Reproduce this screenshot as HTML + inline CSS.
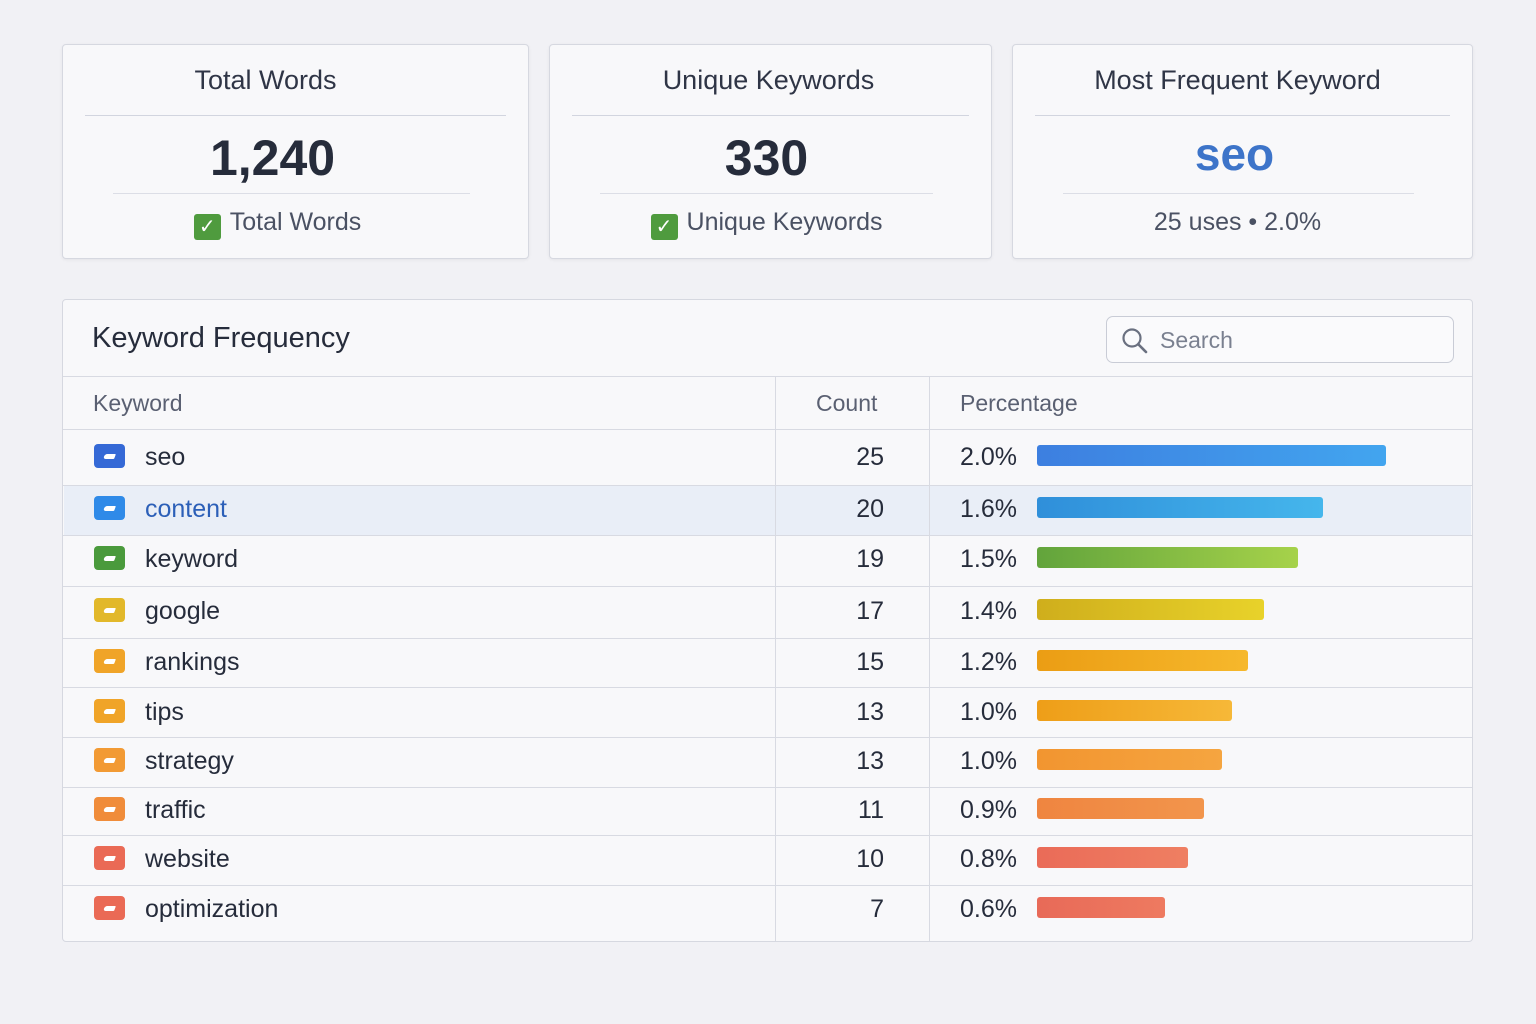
<!DOCTYPE html>
<html><head><meta charset="utf-8"><style>
*{box-sizing:border-box;margin:0;padding:0}
body{width:1536px;height:1024px;background:#f1f1f5;font-family:"Liberation Sans","DejaVu Sans",sans-serif;position:relative;overflow:hidden;color:#262c3b}
.card{position:absolute;top:44px;height:215px;background:#f8f8fa;border:1px solid #d6d8e0;border-radius:4px;box-shadow:0 1px 3px rgba(0,0,0,.06)}
.ct{position:absolute;top:20px;left:0;right:0;text-align:center;font-size:27px;color:#2f3546}
.l1{position:absolute;top:70px;left:22px;right:22px;border-top:1px solid #d2d5df}
.l2{position:absolute;top:148px;left:50px;right:58px;border-top:1px solid #dcdee6}
.num{position:absolute;top:84px;left:0;right:0;text-align:center;font-size:50px;font-weight:bold;color:#262c3b}
.sub{position:absolute;top:163px;left:0;right:0;text-align:center;font-size:25px;color:#4a5163}
.chk{display:inline-block;width:27px;height:26px;background:#4f9b3e;border-radius:3px;vertical-align:-3px;margin-right:9px;color:#fff;font-size:20px;line-height:26px;text-align:center;font-weight:bold}
.panel{position:absolute;left:62px;top:299px;width:1411px;height:643px;background:#f8f8fa;border:1px solid #d6d8e0;border-radius:4px}
.title{position:absolute;left:29px;top:22px;font-size:29px;color:#262c3b}
.search{position:absolute;left:1043px;top:16px;width:348px;height:47px;border:1px solid #c9ccd6;border-radius:7px;background:#fafafc;font-size:23px;color:#7a8090;padding:10px 0 0 53px}
.hl{position:absolute;left:0;right:0;border-top:1px solid #d8dae2}
.vl{position:absolute;top:76px;bottom:0;border-left:1px solid #d8dae2}
.th{position:absolute;top:90px;font-size:23px;color:#5a6072}
.ic{position:absolute;width:31px;height:24px;border-radius:4px}
.ic::after{content:"";position:absolute;left:10px;top:10px;width:11px;height:5px;background:#fff;border-radius:3px 1px 1px 3px;transform:skewX(-20deg)}
</style></head><body>
<div class="card" style="left:62px;width:467px"><div class="ct" style="right:60px">Total Words</div><div class="l1"></div><div class="num" style="right:46px">1,240</div><div class="l2"></div><div class="sub" style="right:36px"><span class="chk">✓</span>Total Words</div></div>
<div class="card" style="left:549px;width:443px"><div class="ct" style="right:4px">Unique Keywords</div><div class="l1"></div><div class="num" style="right:8px">330</div><div class="l2"></div><div class="sub" style="right:8px"><span class="chk">✓</span>Unique Keywords</div></div>
<div class="card" style="left:1012px;width:461px"><div class="ct" style="right:10px">Most Frequent Keyword</div><div class="l1"></div><div class="num" style="color:#3d74c9;top:82px;font-size:46px;right:16px">seo</div><div class="l2"></div><div class="sub" style="right:10px">25 uses • 2.0%</div></div>
<div class="panel">
<div class="title">Keyword Frequency</div>
<div class="search"><svg style="position:absolute;left:14px;top:10px" width="28" height="28"><circle cx="11" cy="11" r="8.5" fill="none" stroke="#6a7080" stroke-width="2.2"/><line x1="17.5" y1="17.5" x2="25" y2="25" stroke="#6a7080" stroke-width="2.6" stroke-linecap="round"/></svg>Search</div>
<div class="hl" style="top:76px"></div>
<div style="position:absolute;top:185px;height:50px;background:#e9eef7;left:1px;right:1px"></div>
<div class="th" style="left:30px">Keyword</div><div class="th" style="left:753px">Count</div><div class="th" style="left:897px">Percentage</div>
<div class="hl" style="top:129px"></div><div class="hl" style="top:185px"></div><div class="hl" style="top:235px"></div><div class="hl" style="top:286px"></div><div class="hl" style="top:338px"></div><div class="hl" style="top:387px"></div><div class="hl" style="top:437px"></div><div class="hl" style="top:487px"></div><div class="hl" style="top:535px"></div><div class="hl" style="top:585px"></div>
<div class="vl" style="left:712px"></div><div class="vl" style="left:866px"></div>
</div>
<div id="rows"></div>
<script>
const d=[["seo",25,"2.0%",1386,"#3569d6","linear-gradient(90deg,#3d7fe0,#42a5ef)",456],
["content",20,"1.6%",1323,"#2f8ae8","linear-gradient(90deg,#2f8fda,#45b6ec)",508],
["keyword",19,"1.5%",1298,"#4a9a3c","linear-gradient(90deg,#62a43c,#a6d24a)",558],
["google",17,"1.4%",1264,"#e2b82a","linear-gradient(90deg,#cfae1c,#e8d22a)",610],
["rankings",15,"1.2%",1248,"#f0a428","linear-gradient(90deg,#eb9d14,#f6b82c)",661],
["tips",13,"1.0%",1232,"#f0a428","linear-gradient(90deg,#ee9e18,#f6b838)",711],
["strategy",13,"1.0%",1222,"#f29a34","linear-gradient(90deg,#f29530,#f5a540)",760],
["traffic",11,"0.9%",1204,"#f08c3a","linear-gradient(90deg,#ef8540,#f2954c)",809],
["website",10,"0.8%",1188,"#ea6a55","linear-gradient(90deg,#ea6b58,#ef7f62)",858],
["optimization",7,"0.6%",1165,"#ea6a55","linear-gradient(90deg,#e86a58,#ee7a60)",908]];
let h="";d.forEach((r,i)=>{const y=r[6];
h+=`<div class="ic" style="left:94px;top:${y-12}px;background:${r[4]}"></div>`;
h+=`<div style="position:absolute;left:145px;top:${y-13}px;font-size:25px;color:${i==1?'#2c5fb8':'#262c3b'}">${r[0]}</div>`;
h+=`<div style="position:absolute;right:652px;top:${y-13}px;font-size:25px">${r[1]}</div>`;
h+=`<div style="position:absolute;right:519px;top:${y-13}px;font-size:25px">${r[2]}</div>`;
h+=`<div style="position:absolute;left:1037px;top:${y-11}px;width:${r[3]-1037}px;height:21px;border-radius:3px;background:${r[5]}"></div>`;});
document.getElementById("rows").innerHTML=h;
</script>
</body></html>
